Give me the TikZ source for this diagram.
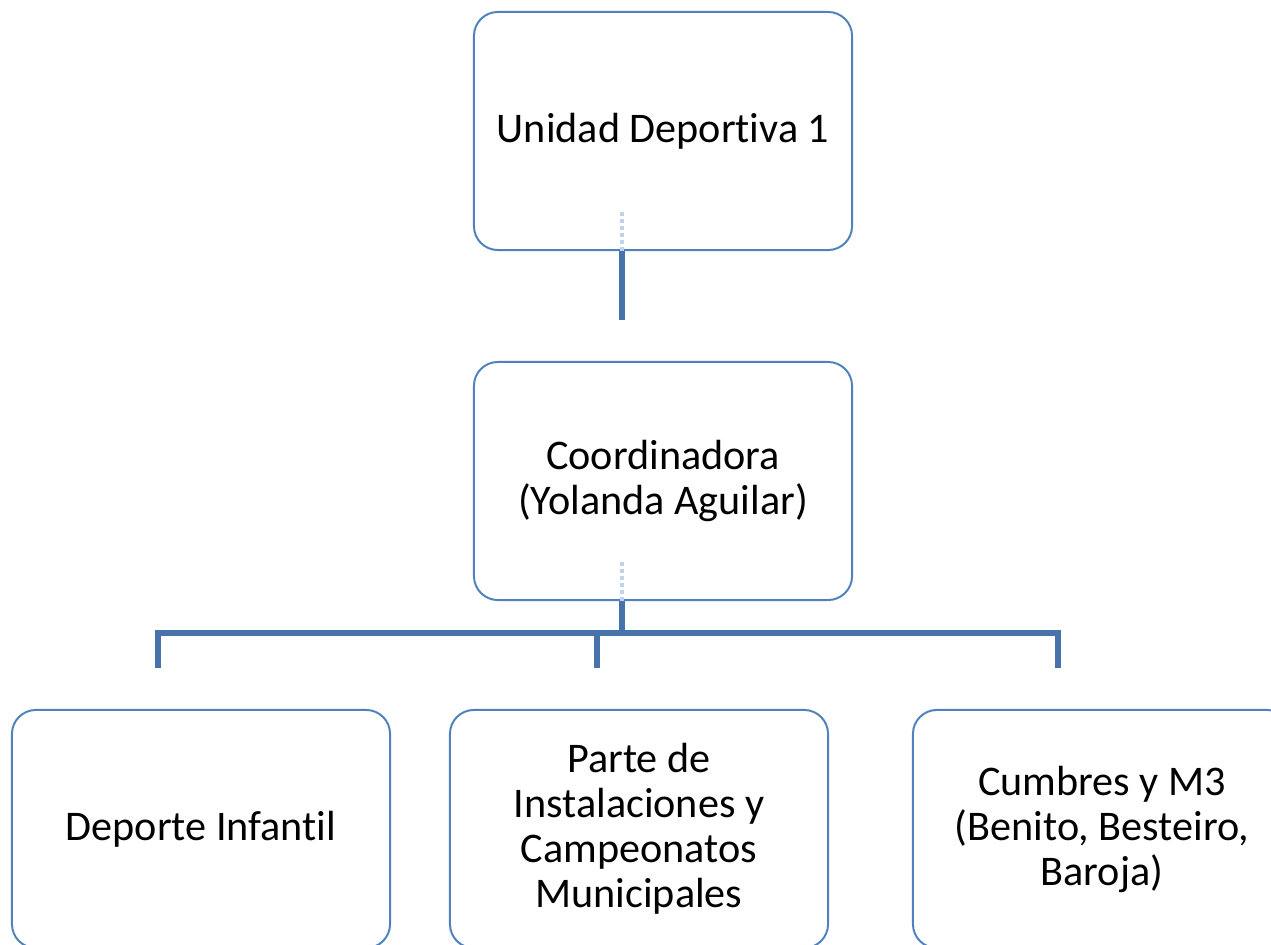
\documentclass[tikz,border=0pt]{standalone}
\usepackage{fontspec}
\setmainfont{Carlito}[RawFeature={-liga;-clig;-calt}]
\definecolor{boxblue}{HTML}{4F81BD}
\definecolor{linkblue}{HTML}{4773AA}
\tikzset{
  unitbox/.style={draw=boxblue, line width=1.4pt, rounded corners=17pt,
    minimum width=9.45cm, minimum height=5.95cm, align=center,
    font=\fontsize{30}{32}\selectfont},
  link/.style={draw=linkblue, line width=4.3pt},
  ghost/.style={draw=boxblue!35, dotted, line width=3pt}
}
\begin{document}
\begin{tikzpicture}[x=0.025cm, y=-0.025cm]
      \useasboundingbox (0,0) rectangle (1271,945);
      \clip (0,0) rectangle (1271,945);
      \begin{scope}[every node/.style={unitbox}]
        \node (unidad) at (663,131) {Unidad Deportiva 1};
        \node (coord) at (663,481) {Coordinadora\\(Yolanda Aguilar)};
        \node (infantil) at (201,829) {Deporte Infantil};
        \node (instal) at (639,829) {Parte de\\Instalaciones y\\Campeonatos\\Municipales};
        \node (cumbres) at (1102,829) {Cumbres y M3\\(Benito, Besteiro,\\Baroja)};
      \end{scope}
      \coordinate (udrop) at (622,320);
      \coordinate (cdrop) at (622,633);
      \coordinate (linf) at (158,668);
      \coordinate (lins) at (597,668);
      \coordinate (lcum) at (1058,668);
      \draw[ghost] (unidad.south -| udrop) -- ++(0,-40);
      \draw[ghost] (coord.south -| cdrop) -- ++(0,-40);
      \draw[link] (unidad.south -| udrop) -- (udrop);
      \draw[link] (coord.south -| cdrop) -- (cdrop);
      \draw[link] (linf) -- ++(0,-35) -| (lcum);
      \draw[link] (lins) -- (lins |- cdrop);
    \end{tikzpicture}
\end{document}
